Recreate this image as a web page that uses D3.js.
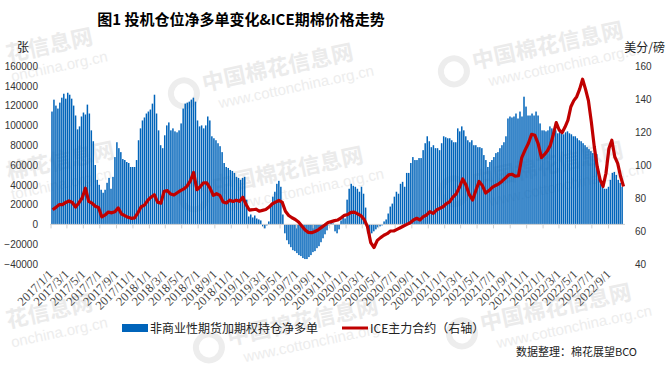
<!DOCTYPE html>
<html>
<head>
<meta http-equiv='Content-Type' content='text/html;charset=utf-8'/>
<title>图1 投机仓位净多单变化&amp;ICE期棉价格走势</title>
<script src='https://d3js.org/d3.v7.min.js'></script>
<style>
body { margin: 0; background: #ffffff; }
svg { display: block; }
.num { font-family: 'Liberation Sans', Arial, sans-serif; font-size: 10px; fill: #333333; }
.cjk { font-family: 'Noto Sans CJK SC', sans-serif; fill: #222222; }
.date { font-family: 'Liberation Serif', serif; font-size: 12.5px; fill: #444444; }
</style>
</head>
<body>
<script>
'use strict'

// texts
const title = '图1 投机仓位净多单变化&ICE期棉价格走势'
const leftUnit = '张'
const rightUnit = '美分/磅'
const barName = '非商业性期货加期权持仓净多单'
const lineName = 'ICE主力合约（右轴）'
const source = '数据整理：棉花展望BCO'

// axis ticks
const leftTicks = [-40000, -20000, 0, 20000, 40000, 60000, 80000, 100000, 120000, 140000, 160000]
const rightTicks = [40, 60, 80, 100, 120, 140, 160]
const xTicks = [
	'2017/1/1', '2017/3/1', '2017/5/1', '2017/7/1', '2017/9/1', '2017/11/1',
	'2018/1/1', '2018/3/1', '2018/5/1', '2018/7/1', '2018/9/1', '2018/11/1',
	'2019/1/1', '2019/3/1', '2019/5/1', '2019/7/1', '2019/9/1', '2019/11/1',
	'2020/1/1', '2020/3/1', '2020/5/1', '2020/7/1', '2020/9/1', '2020/11/1',
	'2021/1/1', '2021/3/1', '2021/5/1', '2021/7/1', '2021/9/1', '2021/11/1',
	'2022/1/1', '2022/3/1', '2022/5/1', '2022/7/1', '2022/9/1'
]

const years = [2017, 2018, 2019, 2020, 2021, 2022]

// weekly net long of non-commercial futures + options (contracts), one array per year
const net2017 = [114000, 126000, 120000, 117000, 123000, 128000, 132000, 127000, 133000, 131000, 127000, 120000, 110000, 96000, 99000, 109000, 113000, 111000, 121000, 112000, 95000, 84000, 60000, 45000, 40000, 35000, 32000, 35000, 42000, 47000, 36000, 48000, 68000, 83000, 77000, 73000, 66000, 65000, 63000, 62000, 58000, 58000, 58000, 65000, 85000, 97000, 105000, 108000, 112000, 114000]
const net2018 = [116000, 122000, 131000, 112000, 95000, 80000, 77000, 90000, 100000, 103000, 95000, 97000, 94000, 93000, 95000, 102000, 117000, 122000, 123000, 124000, 126000, 128000, 124000, 105000, 99000, 100000, 97000, 100000, 109000, 105000, 89000, 87000, 85000, 82000, 79000, 73000, 62000, 58000, 57000, 55000, 54000, 52000, 48000, 47000, 45000, 47000, 48000, 25000]
const net2019 = [8000, 10000, 7000, 9000, 6000, 5000, 4000, -2000, -4000, -1000, 3000, 21000, 28000, 33000, 41000, 44000, 38000, 10000, -9000, -16000, -20000, -23000, -26000, -27000, -29000, -31000, -32000, -34000, -35000, -35000, -33000, -31000, -28000, -27000, -24000, -22000, -18000, -14000, -10000, -6000, -1000, 2000, 1000, -7000, -9000, -5000, 4000, 8000, 6000]
const net2020 = [25000, 36000, 41000, 39000, 38000, 36000, 33000, 38000, 31000, 17000, -9000, -13000, -9000, -7000, -5000, -3000, -2000, -1000, 3000, 5000, 11000, 18000, 21000, 28000, 33000, 31000, 41000, 43000, 38000, 52000, 52000, 62000, 68000, 65000, 65000, 67000, 67000, 75000, 82000, 89000, 84000, 78000, 80000, 77000, 77000, 75000, 82000, 89000]
const net2021 = [88000, 87000, 87000, 85000, 83000, 83000, 97000, 94000, 99000, 95000, 89000, 85000, 83000, 85000, 80000, 80000, 78000, 78000, 77000, 70000, 65000, 58000, 63000, 65000, 68000, 72000, 73000, 77000, 80000, 83000, 89000, 107000, 109000, 108000, 109000, 112000, 107000, 114000, 109000, 129000, 119000, 110000, 110000, 112000, 110000, 114000, 110000, 102000, 95000]
const net2022 = [95000, 94000, 95000, 99000, 97000, 94000, 95000, 92000, 94000, 92000, 91000, 93000, 94000, 92000, 91000, 89000, 89000, 87000, 85000, 84000, 82000, 80000, 78000, 76000, 74000, 72000, 72000, 71000, 48000, 41000, 38000, 36000, 36000, 38000, 45000, 52000, 53000, 50000, 45000, 42000, 38000]
const netLong = [net2017, net2018, net2019, net2020, net2021, net2022]

// ICE front month price (cents/lb), sampled through each year
const ice2017 = [72.9, 74.3, 76, 76, 77.3, 78.2, 77.3, 74.5, 77, 80, 85.9, 78, 76.9, 75, 74.3, 68.5, 69.7, 71.5, 71, 71.7, 74, 70.3, 69.3, 68.3, 67.7, 68, 71, 74.7, 75.7, 78.5]
const ice2018 = [80.5, 82, 77.5, 76.8, 84, 84.5, 82.4, 81.8, 83.2, 84.5, 85.5, 87.2, 90.4, 95.5, 85, 86.8, 89.2, 89.2, 86, 81.6, 82.6, 81.6, 77.6, 77, 78.7, 77.9, 78.7, 78, 80.5, 76]
const ice2019 = [72.7, 72.9, 73.2, 72, 72.5, 73, 74.5, 76.5, 77.5, 78.5, 77.5, 72, 69.4, 68, 67, 65.5, 63, 60.6, 59.2, 59, 59.7, 60.7, 62.2, 63.6, 65.1, 65.7, 66.3, 66.7, 68, 69.5]
const ice2020 = [70, 71.3, 71.4, 70.4, 69.3, 67, 62.6, 53, 50, 54.3, 56, 57.4, 58.4, 60, 60, 61, 62, 63, 64, 65, 66.7, 67.7, 66.7, 68.7, 69.7, 71.7, 70.7, 72.7, 73.7, 74.7]
const ice2021 = [76.6, 77.7, 80.5, 82.5, 86.5, 91.5, 87.8, 82, 78.8, 84.6, 90, 87.5, 83, 84.5, 86.5, 87.6, 88.6, 90.2, 92.1, 94, 94.4, 93.3, 93.5, 104.5, 109, 113, 118.6, 118, 113, 104.5]
const ice2022 = [106.4, 108.6, 112, 118.5, 125.7, 121.2, 119.6, 123, 127.2, 135.3, 139, 141.4, 146, 152, 146, 139, 126, 111, 99, 91, 87, 95, 110, 115, 105, 101, 93, 87]
const icePrice = [ice2017, ice2018, ice2019, ice2020, ice2021, ice2022]

const lastBar = new Date(2022, 9, 25)
const lastPrice = new Date(2022, 10, 1)

// layout
const W = 667, H = 372
const plot = {left: 51, right: 625, top: 66, bottom: 264}

const svg = d3.select('body').append('svg')
	.attr('width', W)
	.attr('height', H)

svg.append('rect')
	.attr('width', W)
	.attr('height', H)
	.attr('fill', '#ffffff')

drawWatermarks()

const x = d3.scaleTime()
	.domain([new Date(2017, 0, 1), lastPrice])
	.range([plot.left, plot.right])
const yLeft = d3.scaleLinear()
	.domain([-40000, 160000])
	.range([plot.bottom, plot.top])
const yRight = d3.scaleLinear()
	.domain([40, 160])
	.range([plot.bottom, plot.top])

/**
 * spread
 * Place each year's values evenly through that year (or up to the end date).
 */
function spread(arrays, end)
{
	const out = []
	arrays.forEach(function(vals, k) {
		const start = new Date(years[k], 0, 1)
		const stop = d3.min([new Date(years[k] + 1, 0, 1), end])
		const step = (stop - start) / vals.length
		vals.forEach(function(v, i) {
			out.push({date: new Date(+start + (i + 0.5) * step), value: v})
		})
	})
	return out
}

const bars = spread(netLong, lastBar)
const prices = spread(icePrice, lastPrice)
const parseTick = d3.timeParse('%Y/%m/%d')
const y0 = yLeft(0)

// bars
svg.append('g')
	.selectAll('rect')
	.data(bars)
	.join('rect')
	.attr('x', function(d) { return x(d.date) - 0.75 })
	.attr('width', 1.5)
	.attr('y', function(d) { return Math.min(yLeft(d.value), y0) })
	.attr('height', function(d) { return Math.abs(yLeft(d.value) - y0) })
	.attr('fill', '#0064ba')

// zero axis with tick marks
svg.append('line')
	.attr('x1', plot.left - 1).attr('x2', plot.right)
	.attr('y1', y0).attr('y2', y0)
	.attr('stroke', '#d0d0d0')

svg.append('g')
	.selectAll('line')
	.data(xTicks)
	.join('line')
	.attr('x1', function(d) { return x(parseTick(d)) })
	.attr('x2', function(d) { return x(parseTick(d)) })
	.attr('y1', y0)
	.attr('y2', y0 + 4)
	.attr('stroke', '#d0d0d0')

// price line
const line = d3.line()
	.x(function(d) { return x(d.date) })
	.y(function(d) { return yRight(d.value) })

svg.append('path')
	.datum(prices)
	.attr('d', line)
	.attr('fill', 'none')
	.attr('stroke', '#c00000')
	.attr('stroke-width', 3.2)
	.attr('stroke-linejoin', 'round')

// left axis
const leftAxis = svg.append('g')
	.attr('transform', 'translate(41,0)')
	.call(d3.axisLeft(yLeft).tickValues(leftTicks).tickSize(0).tickPadding(3).tickFormat(d3.format('d')))
leftAxis.select('.domain').remove()
leftAxis.selectAll('text').attr('class', 'num')

// right axis
const rightAxis = svg.append('g')
	.attr('transform', 'translate(630,0)')
	.call(d3.axisRight(yRight).tickValues(rightTicks).tickSize(0).tickPadding(5))
rightAxis.select('.domain').remove()
rightAxis.selectAll('text').attr('class', 'num')

// date labels
svg.append('g')
	.selectAll('text')
	.data(xTicks)
	.join('text')
	.attr('class', 'date')
	.attr('text-anchor', 'end')
	.attr('transform', function(d) { return 'translate(' + (x(parseTick(d)) + 3) + ',275) rotate(-45)' })
	.text(function(d) { return d })

// title and units
svg.append('text')
	.attr('class', 'cjk')
	.attr('x', 241).attr('y', 25)
	.attr('text-anchor', 'middle')
	.style('font-size', '15px')
	.style('font-weight', 'bold')
	.style('fill', '#000000')
	.text(title)

svg.append('text')
	.attr('class', 'cjk')
	.attr('x', 17).attr('y', 52)
	.style('font-size', '12px')
	.text(leftUnit)

svg.append('text')
	.attr('class', 'cjk')
	.attr('x', 665).attr('y', 52)
	.attr('text-anchor', 'end')
	.style('font-size', '12px')
	.text(rightUnit)

// legend
svg.append('rect')
	.attr('x', 122).attr('y', 324)
	.attr('width', 26).attr('height', 8)
	.attr('fill', '#0064ba')
svg.append('text')
	.attr('class', 'cjk')
	.attr('x', 150).attr('y', 333)
	.style('font-size', '12px')
	.text(barName)

svg.append('line')
	.attr('x1', 342).attr('x2', 368)
	.attr('y1', 328).attr('y2', 328)
	.attr('stroke', '#c00000')
	.attr('stroke-width', 3)
svg.append('text')
	.attr('class', 'cjk')
	.attr('x', 370).attr('y', 333)
	.style('font-size', '12px')
	.text(lineName)

svg.append('text')
	.attr('class', 'cjk')
	.attr('x', 637).attr('y', 356)
	.attr('text-anchor', 'end')
	.style('font-size', '11px')
	.text(source)

/**
 * drawWatermarks
 * Faint site watermarks behind the chart.
 */
function drawWatermarks()
{
	// [x, y, site name shown, url shown, with logo]
	const spots = [
		[8, 62, '花信息网', 'onchina.org.cn', false],
		[200, 92, '中国棉花信息网', 'www.cottonchina.org.cn', true],
		[470, 70, '中国棉花信息网', 'www.cottonchina.org.cn', true],
		[8, 180, '棉花信息网', 'tonchina.org.cn', false],
		[210, 195, '中国棉花信息网', 'www.cottonchina.org.cn', true],
		[470, 190, '中国棉花信息网', 'www.cottonchina.org.cn', true],
		[8, 328, '花信息网', 'onchina.org.cn', false],
		[225, 346, '中国棉花信息网', 'www.cottonchina.org.cn', true],
		[478, 332, '中国棉花信息网', 'www.cottonchina.org.cn', true]
	]
	const g = svg.append('g')
	spots.forEach(function(p) {
		const t = g.append('g')
			.attr('transform', 'translate(' + p[0] + ',' + p[1] + ') rotate(-12)')
		if (p[4])
			t.append('circle')
				.attr('cx', -16).attr('cy', -2).attr('r', 13)
				.attr('fill', 'none').attr('stroke', '#ededed').attr('stroke-width', 6)
		t.append('text')
			.attr('x', p[4] ? 4 : 0).attr('y', 0)
			.style('font-family', "'Noto Sans CJK SC', sans-serif")
			.style('font-size', '22px').style('font-weight', 'bold')
			.attr('fill', '#ebebeb')
			.text(p[2])
		t.append('text')
			.attr('x', p[4] ? 16 : 0).attr('y', 20)
			.style('font-family', "'Liberation Sans', Arial, sans-serif")
			.style('font-size', '15px')
			.attr('fill', '#ededed')
			.text(p[3])
	})
}
</script>
</body>
</html>
